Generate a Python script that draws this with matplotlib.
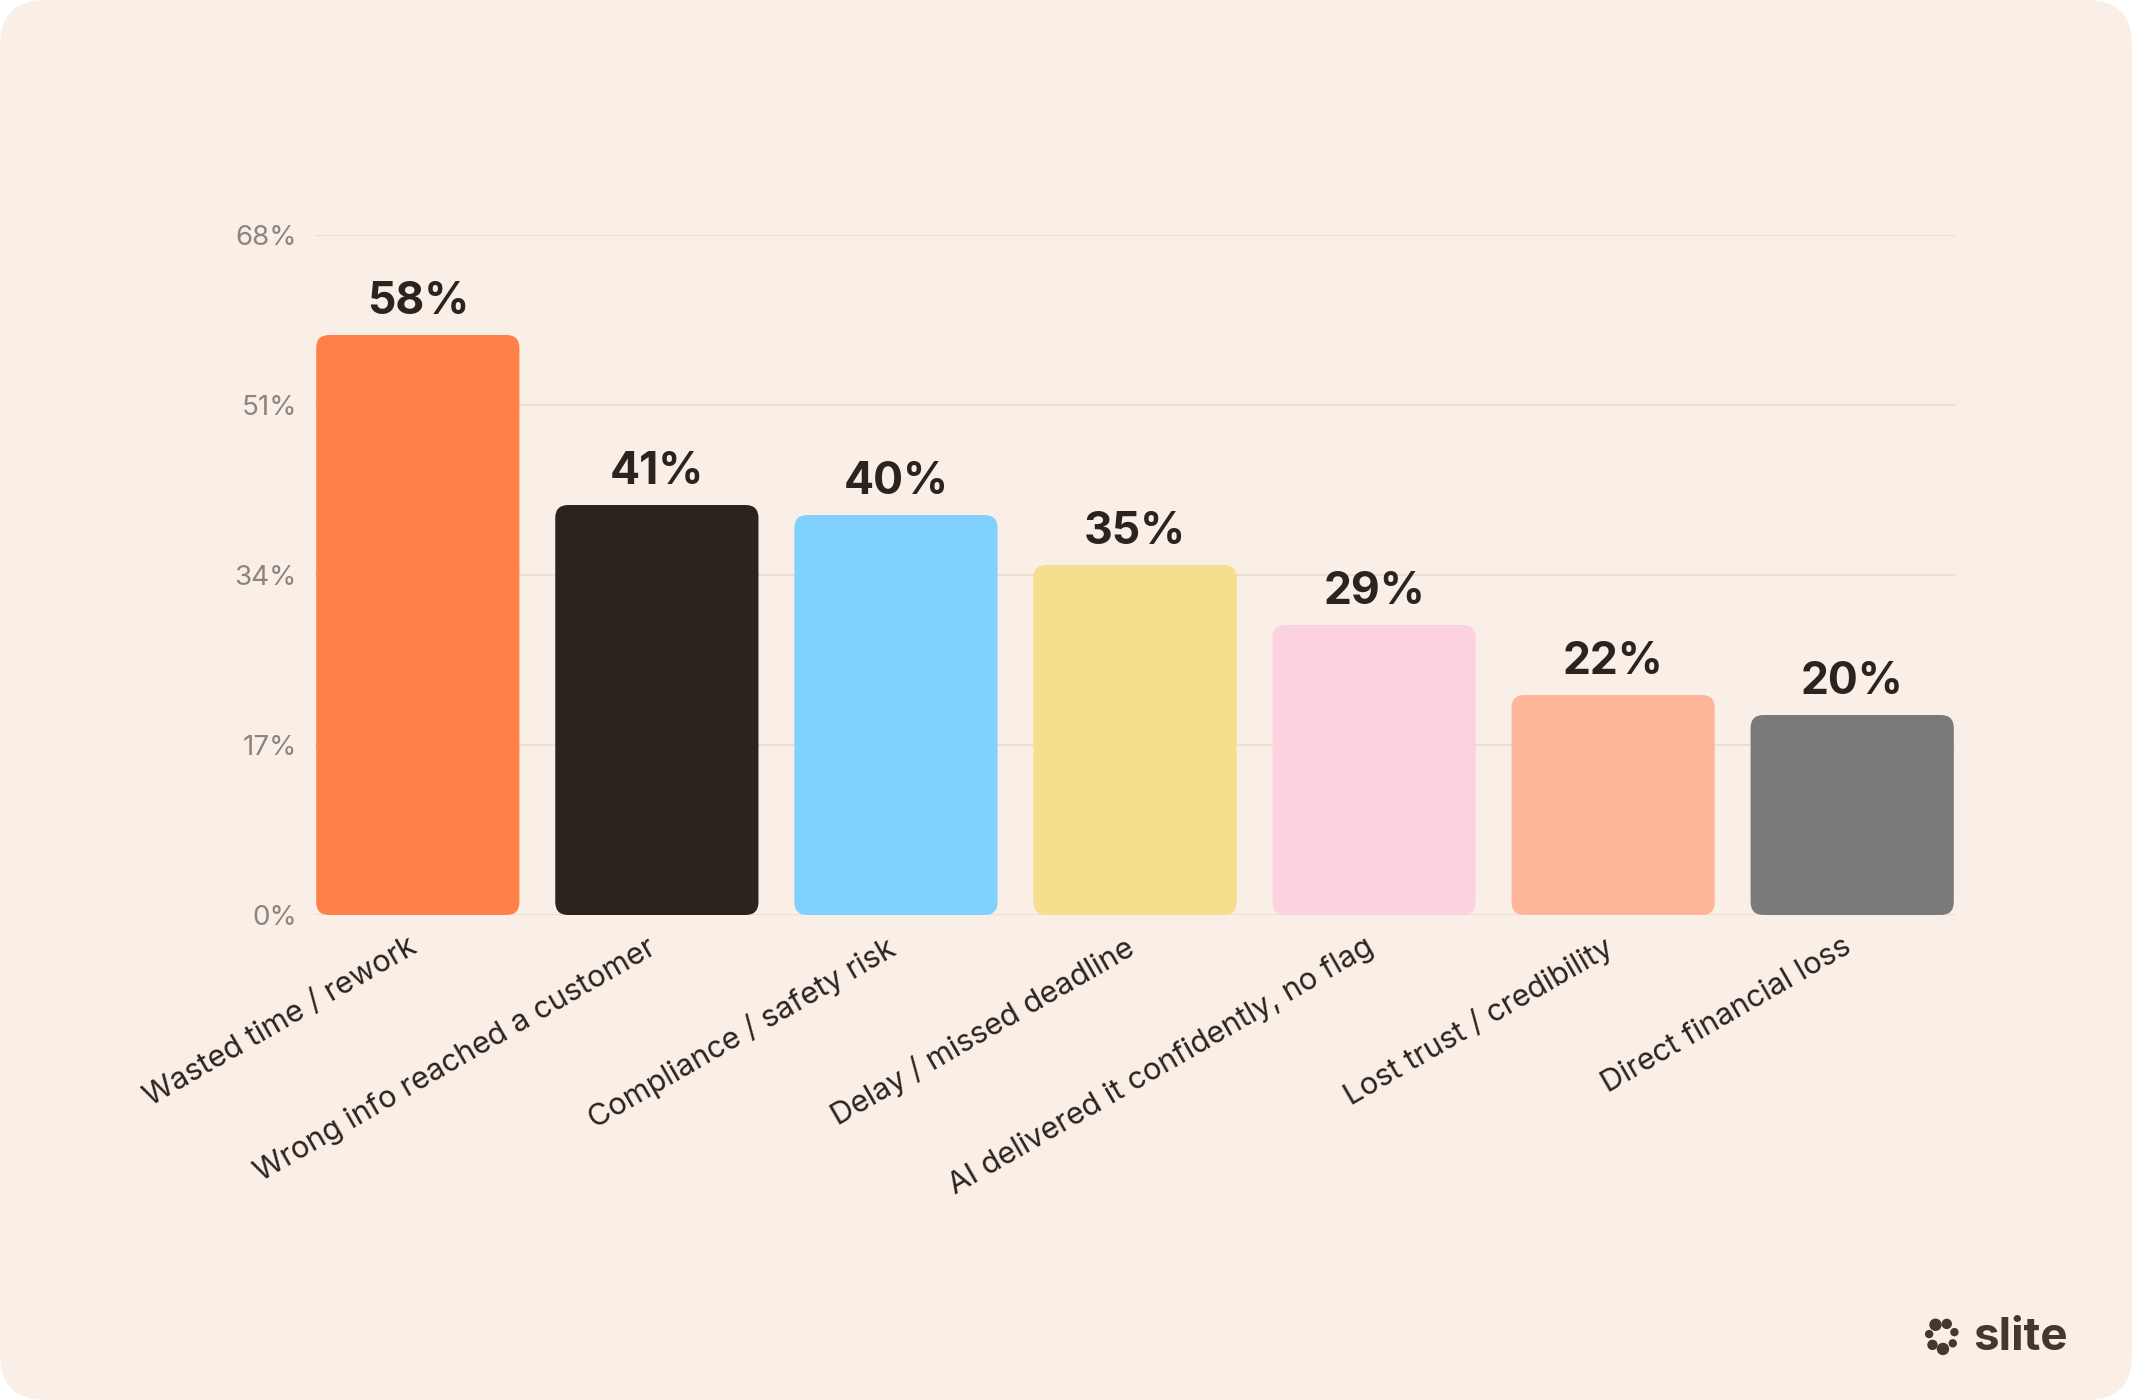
import matplotlib
matplotlib.use("Agg")
import matplotlib.pyplot as plt
from matplotlib.patches import FancyBboxPatch, Circle
from matplotlib.transforms import ScaledTranslation
import numpy as np

categories = ["Wasted time / rework", "Wrong info reached a customer", "Compliance / safety risk",
              "Delay / missed deadline", "AI delivered it confidently, no flag",
              "Lost trust / credibility", "Direct financial loss"]
values = [58, 41, 40, 35, 29, 22, 20]
colors = ["#FF8149", "#2B231E", "#80D1FE", "#F5DE8E", "#FDD2E0", "#FFB599", "#7A7A7A"]
yticks = [0, 17, 34, 51, 68]
ytick_labels = ["0%", "17%", "34%", "51%", "68%"]

plt.rcParams['font.family'] = ['Inter', 'DejaVu Sans']

W, H = 2132, 1400
fig = plt.figure(figsize=(W / 100, H / 100), dpi=100)
fig.patch.set_facecolor("white")
card = FancyBboxPatch((0, 0), W / 100, H / 100, boxstyle="round,pad=0,rounding_size=0.45",
                      transform=fig.dpi_scale_trans,
                      facecolor="#F9EFE6", edgecolor="none", zorder=-5)
fig.patches.append(card)

ax = fig.add_axes([315 / W, 1 - 915 / H, (1955 - 315) / W, (915 - 235) / H])
ax.set_facecolor("none")
x = np.arange(len(categories))
bars = ax.bar(x, values, width=0.85, color=colors)
ax.set_xlim(-0.43, len(categories) - 1 + 0.43)
ax.set_ylim(0, 68)

# replace bars by rounded ones
px_per_x = ax.get_position().width * W / (ax.get_xlim()[1] - ax.get_xlim()[0])
px_per_y = ax.get_position().height * H / (ax.get_ylim()[1] - ax.get_ylim()[0])
r_px = 13
for b in bars:
    bx, by, bw, bh = b.get_x(), b.get_y(), b.get_width(), b.get_height()
    fc = b.get_facecolor()
    b.set_visible(False)
    rp = FancyBboxPatch((bx, by), bw, bh,
                        boxstyle=f"round,pad=0,rounding_size={r_px / px_per_x}",
                        mutation_aspect=px_per_x / px_per_y,
                        facecolor=fc, edgecolor="none", zorder=3)
    ax.add_patch(rp)
    ax.text(bx + bw / 2, bh + 1.2, f"{int(bh)}%", ha="center", va="bottom",
            fontsize=32, fontweight="bold", color="#2B231E", zorder=4)

ax.set_yticks(yticks)
ax.set_yticklabels(ytick_labels)
ax.grid(axis="y", color="#EADDD2", linewidth=1.3, zorder=0)
ax.set_axisbelow(True)
ax.tick_params(axis="y", length=0, pad=13, labelsize=20, labelcolor="#8C847E")
ax.tick_params(axis="x", length=0, pad=15)
ax.set_xticks(x)
ax.set_xticklabels(categories, rotation=30, ha="right", rotation_mode="anchor",
                   fontsize=22, color="#2B231E")
shift = ScaledTranslation(-0.10, 0.03, fig.dpi_scale_trans)
for lbl in ax.get_xticklabels():
    lbl.set_transform(lbl.get_transform() + shift)
for s in ax.spines.values():
    s.set_visible(False)

# logo
fig.text(2068 / W, 1 - 1338 / H, "slite", ha="right", va="center", fontsize=33,
         fontweight="bold", color="#433830")
cx, cy, rr = 19.42, (H - 1336) / 100, 0.13
for i, ang in enumerate(np.linspace(0.3, 0.3 + 2 * np.pi, 7, endpoint=False)):
    rad = 0.042 + (i % 3) * 0.01
    fig.patches.append(Circle((cx + rr * np.cos(ang), cy + rr * np.sin(ang)), rad,
                              transform=fig.dpi_scale_trans, facecolor="#433830",
                              edgecolor="none"))

fig.savefig("out.png", dpi=100, facecolor=fig.get_facecolor())
